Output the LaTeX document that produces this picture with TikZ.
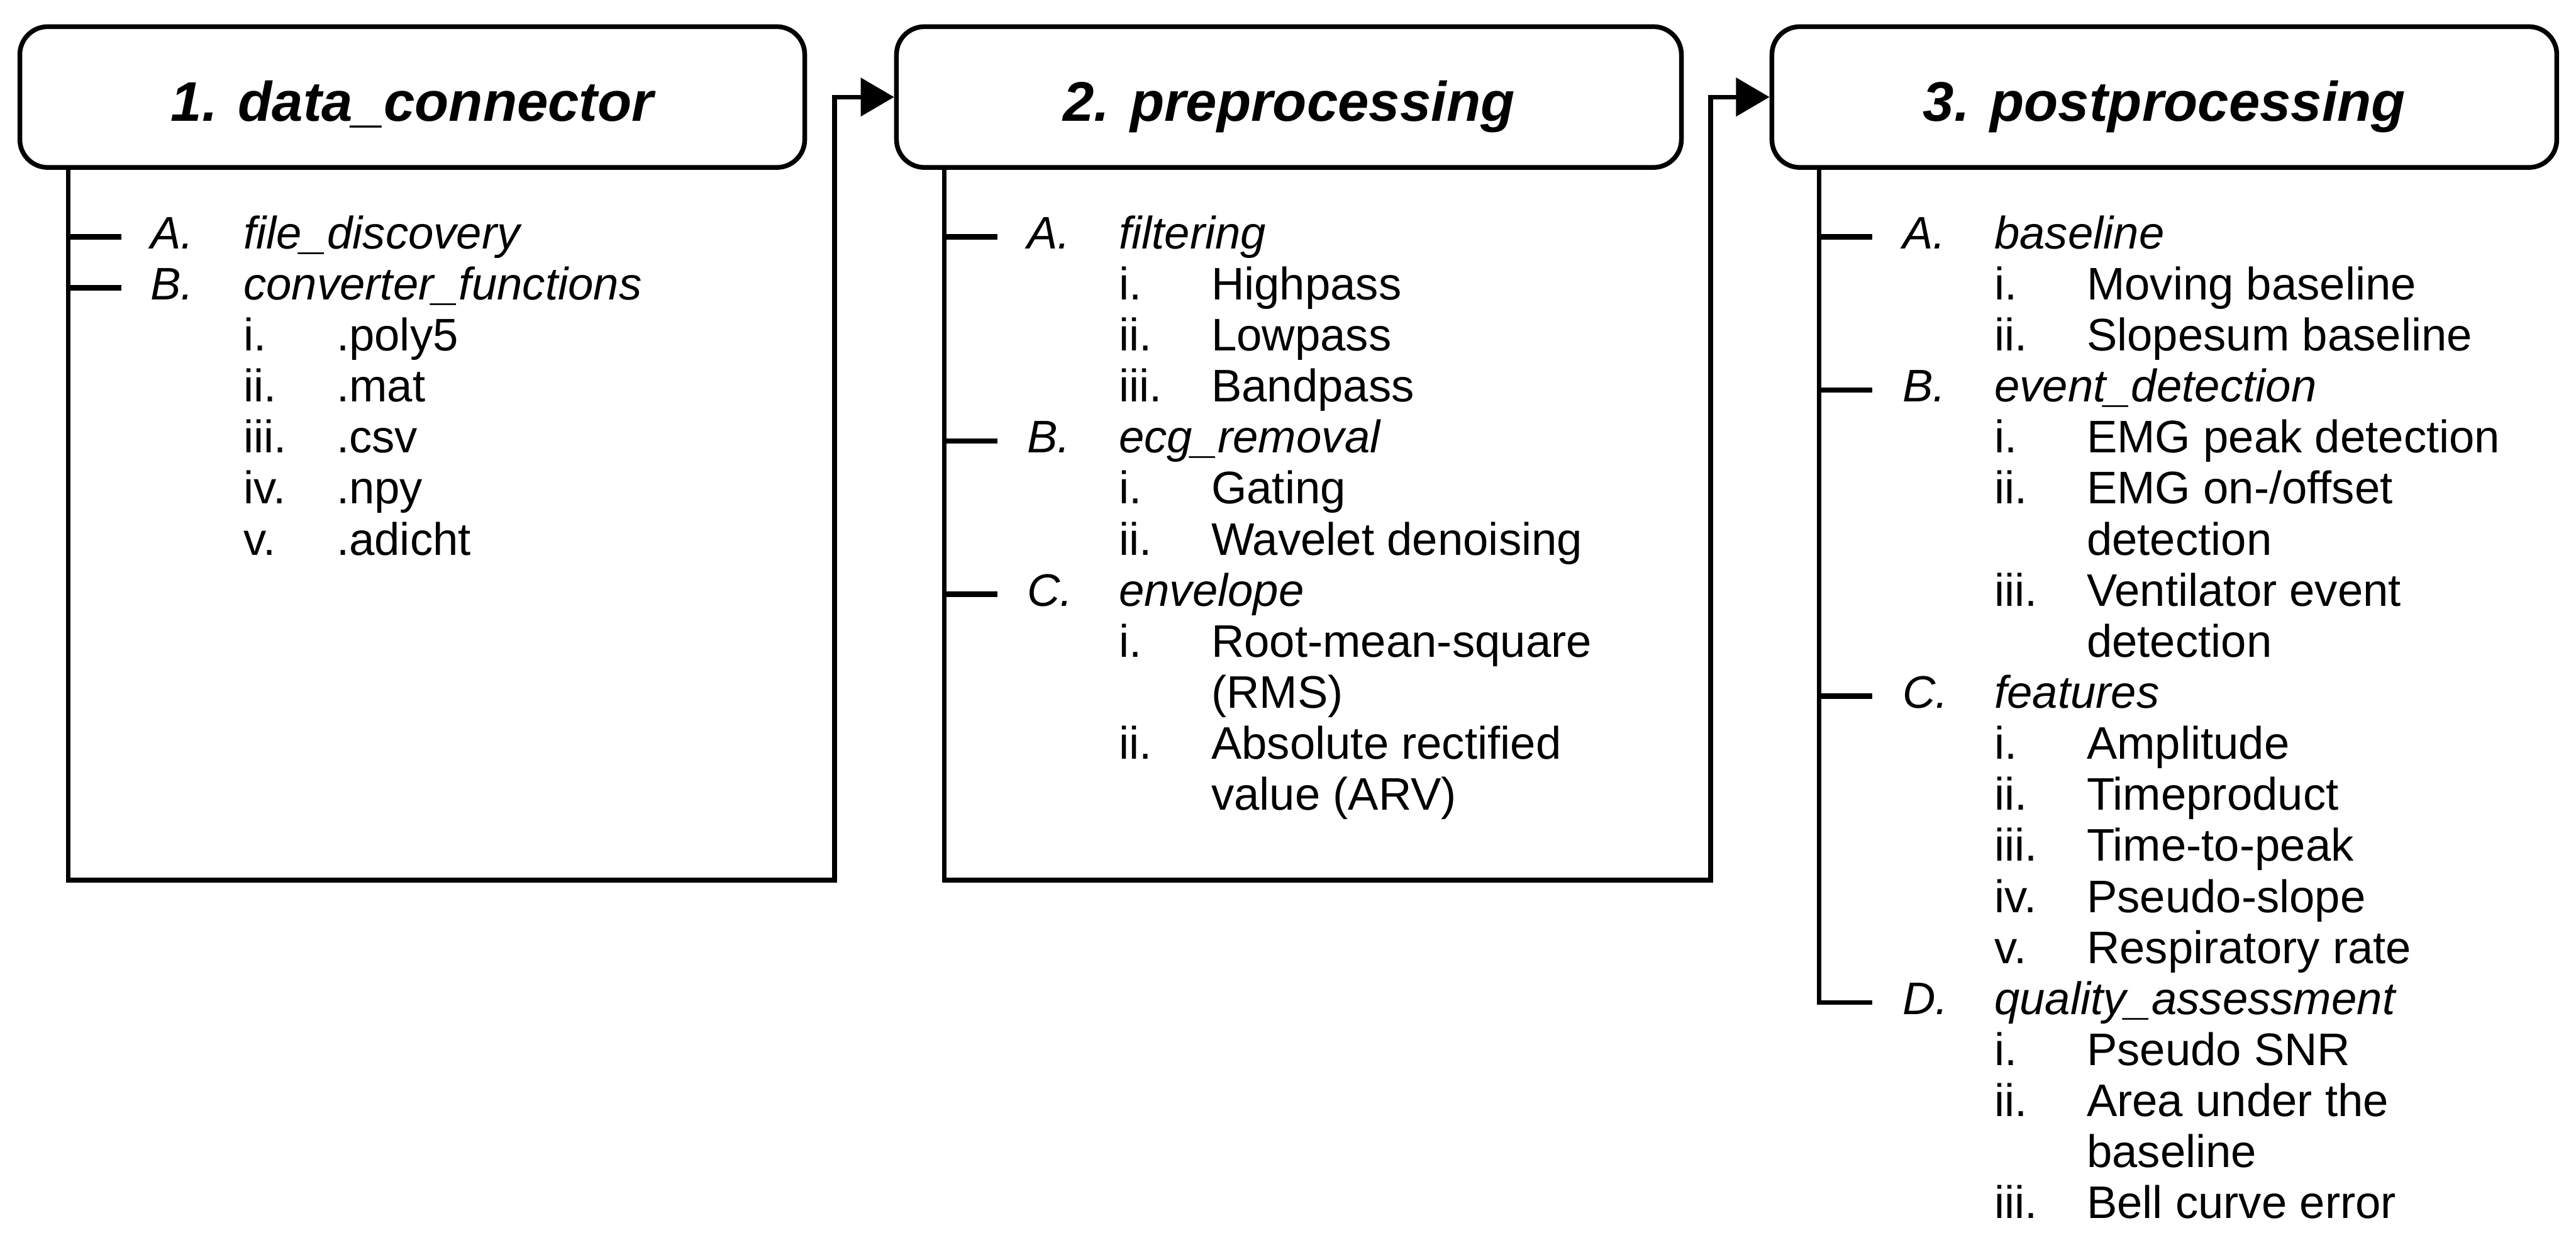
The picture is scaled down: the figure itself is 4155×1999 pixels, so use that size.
\documentclass[tikz,border=0pt]{standalone}
\usepackage{fontspec}
\setmainfont{Liberation Sans}
\newfontfamily\bodyfont{Liberation Sans}
\usetikzlibrary{arrows.meta}
\tikzset{
  box/.style={draw, line width=1.9pt, rounded corners=11.25pt, minimum width=316.5pt, minimum height=56.75pt, inner sep=0pt},
  ttl/.style={anchor=base, inner sep=0pt, font={\bodyfont\bfseries\itshape\fontsize{22.5pt}{26pt}\selectfont}},
  conn/.style={line width=1.9pt},
  tick/.style={line width=2.2pt},
  lbl/.style={anchor=base west, inner sep=0pt, font={\bodyfont\fontsize{18.4pt}{20.575pt}\selectfont}},
  ilbl/.style={lbl, font={\bodyfont\itshape\fontsize{18.4pt}{20.575pt}\selectfont}},
  arr/.style={-{Triangle[length=13.5pt,width=15.25pt]}}
}
\begin{document}
\begin{tikzpicture}[x=0.25pt, y=-0.25pt]
\useasboundingbox (0,0) rectangle (4155,1999);

% boxes
\node[box] (b1) at (665,156.5) {};
\node[box] (b2) at (2079,156.5) {};
\node[box] (b3) at (3491,156.5) {};
\node[ttl] (t1) at (665,195) {1. data\_connector};
\node[ttl] (t2) at (2079,195) {2. preprocessing};
\node[ttl] (t3) at (3491,195) {3. postprocessing};

% frames and arrows
\coordinate (f1bl) at (110,1419);
\coordinate (f1br) at (1346,1419);
\draw[conn, arr] (f1bl |- b1.south) -- (f1bl) -- (f1br) |- (b2.west);
\coordinate (f2bl) at (1523,1419);
\coordinate (f2br) at (2759,1419);
\draw[conn, arr] (f2bl |- b2.south) -- (f2bl) -- (f2br) |- (b3.west);
\coordinate (f3) at (2934,1616.5);
\draw[conn] (f3 |- b3.south) -- (f3) -- ++(86,0);

% ticks
\draw[tick] (110,382) -- ++(86,0);
\draw[tick] (110,464.3) -- ++(86,0);
\draw[tick] (1523,382) -- ++(86,0);
\draw[tick] (1523,711.2) -- ++(86,0);
\draw[tick] (1523,958.1) -- ++(86,0);
\draw[tick] (2934,382) -- ++(86,0);
\draw[tick] (2934,628.9) -- ++(86,0);
\draw[tick] (2934,1122.7) -- ++(86,0);

% column 1
\node[ilbl] (c1A) at (242,401) {A.};
\node[ilbl] (c1At) at (392,401) {file\_discovery};
\node[ilbl] (c1B) at (242,483.3) {B.};
\node[ilbl] (c1Bt) at (392,483.3) {converter\_functions};
\node[lbl] (c1B1) at (392,565.6) {i.};
\node[lbl] (c1B1t) at (542,565.6) {.poly5};
\node[lbl] (c1B2) at (392,647.9) {ii.};
\node[lbl] (c1B2t) at (542,647.9) {.mat};
\node[lbl] (c1B3) at (392,730.2) {iii.};
\node[lbl] (c1B3t) at (542,730.2) {.csv};
\node[lbl] (c1B4) at (392,812.5) {iv.};
\node[lbl] (c1B4t) at (542,812.5) {.npy};
\node[lbl] (c1B5) at (392,894.8) {v.};
\node[lbl] (c1B5t) at (542,894.8) {.adicht};

% column 2
\node[ilbl] (c2A) at (1656,401) {A.};
\node[ilbl] (c2At) at (1804,401) {filtering};
\node[lbl] (c2A1) at (1804,483.3) {i.};
\node[lbl] (c2A1t) at (1953,483.3) {Highpass};
\node[lbl] (c2A2) at (1804,565.6) {ii.};
\node[lbl] (c2A2t) at (1953,565.6) {Lowpass};
\node[lbl] (c2A3) at (1804,647.9) {iii.};
\node[lbl] (c2A3t) at (1953,647.9) {Bandpass};
\node[ilbl] (c2B) at (1656,730.2) {B.};
\node[ilbl] (c2Bt) at (1804,730.2) {ecg\_removal};
\node[lbl] (c2B1) at (1804,812.5) {i.};
\node[lbl] (c2B1t) at (1953,812.5) {Gating};
\node[lbl] (c2B2) at (1804,894.8) {ii.};
\node[lbl] (c2B2t) at (1953,894.8) {Wavelet denoising};
\node[ilbl] (c2C) at (1656,977.1) {C.};
\node[ilbl] (c2Ct) at (1804,977.1) {envelope};
\node[lbl] (c2C1) at (1804,1059.4) {i.};
\node[lbl] (c2C1t) at (1953,1059.4) {Root-mean-square};
\node[lbl] (c2C1u) at (1953,1141.7) {(RMS)};
\node[lbl] (c2C2) at (1804,1224) {ii.};
\node[lbl] (c2C2t) at (1953,1224) {Absolute rectified};
\node[lbl] (c2C2u) at (1953,1306.3) {value (ARV)};

% column 3
\node[ilbl] (c3A) at (3068,401) {A.};
\node[ilbl] (c3At) at (3216,401) {baseline};
\node[lbl] (c3A1) at (3216,483.3) {i.};
\node[lbl] (c3A1t) at (3365,483.3) {Moving baseline};
\node[lbl] (c3A2) at (3216,565.6) {ii.};
\node[lbl] (c3A2t) at (3365,565.6) {Slopesum baseline};
\node[ilbl] (c3B) at (3068,647.9) {B.};
\node[ilbl] (c3Bt) at (3216,647.9) {event\_detection};
\node[lbl] (c3B1) at (3216,730.2) {i.};
\node[lbl] (c3B1t) at (3365,730.2) {EMG peak detection};
\node[lbl] (c3B2) at (3216,812.5) {ii.};
\node[lbl] (c3B2t) at (3365,812.5) {EMG on-/offset};
\node[lbl] (c3B2u) at (3365,894.8) {detection};
\node[lbl] (c3B3) at (3216,977.1) {iii.};
\node[lbl] (c3B3t) at (3365,977.1) {Ventilator event};
\node[lbl] (c3B3u) at (3365,1059.4) {detection};
\node[ilbl] (c3C) at (3068,1141.7) {C.};
\node[ilbl] (c3Ct) at (3216,1141.7) {features};
\node[lbl] (c3C1) at (3216,1224) {i.};
\node[lbl] (c3C1t) at (3365,1224) {Amplitude};
\node[lbl] (c3C2) at (3216,1306.3) {ii.};
\node[lbl] (c3C2t) at (3365,1306.3) {Timeproduct};
\node[lbl] (c3C3) at (3216,1388.6) {iii.};
\node[lbl] (c3C3t) at (3365,1388.6) {Time-to-peak};
\node[lbl] (c3C4) at (3216,1470.9) {iv.};
\node[lbl] (c3C4t) at (3365,1470.9) {Pseudo-slope};
\node[lbl] (c3C5) at (3216,1553.2) {v.};
\node[lbl] (c3C5t) at (3365,1553.2) {Respiratory rate};
\node[ilbl] (c3D) at (3068,1635.5) {D.};
\node[ilbl] (c3Dt) at (3216,1635.5) {quality\_assessment};
\node[lbl] (c3D1) at (3216,1717.8) {i.};
\node[lbl] (c3D1t) at (3365,1717.8) {Pseudo SNR};
\node[lbl] (c3D2) at (3216,1800.1) {ii.};
\node[lbl] (c3D2t) at (3365,1800.1) {Area under the};
\node[lbl] (c3D2u) at (3365,1882.4) {baseline};
\node[lbl] (c3D3) at (3216,1964.7) {iii.};
\node[lbl] (c3D3t) at (3365,1964.7) {Bell curve error};
\end{tikzpicture}
\end{document}
